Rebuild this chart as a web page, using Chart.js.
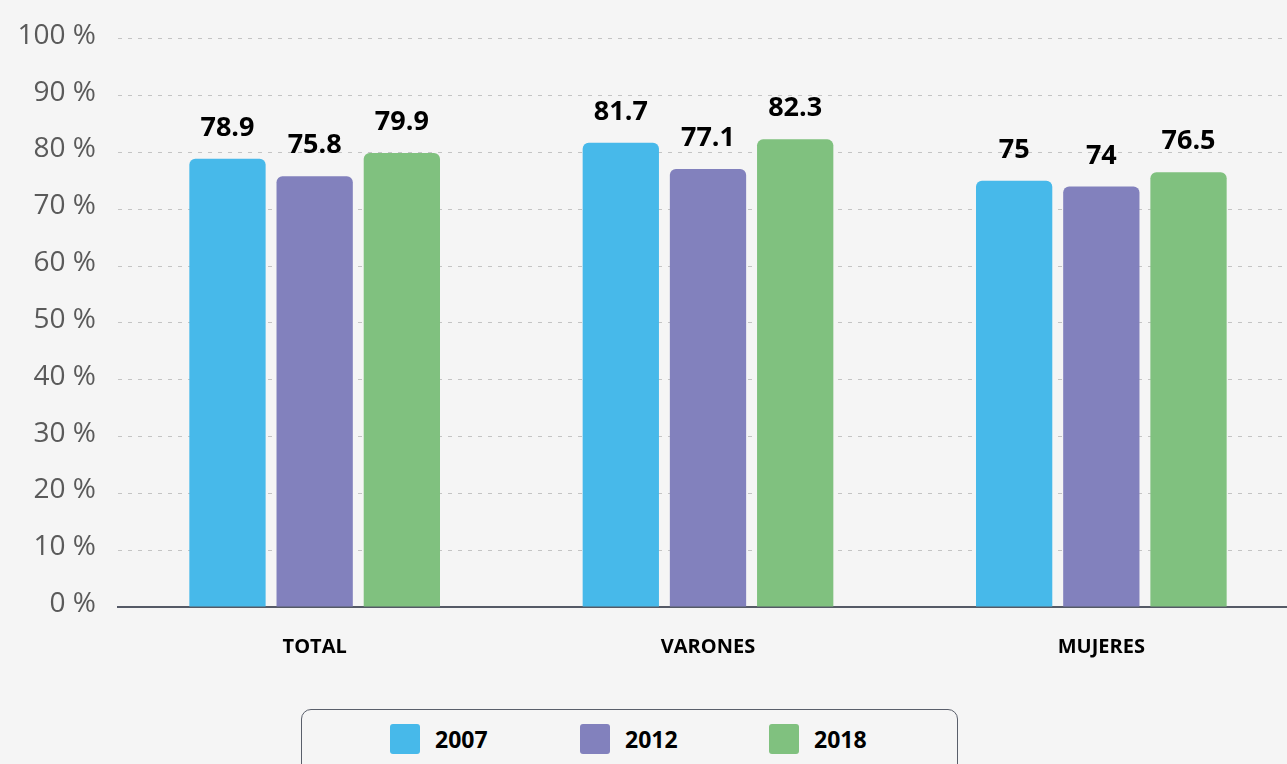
<!DOCTYPE html>
<html>
<head>
<meta charset="utf-8">
<script src="https://cdn.jsdelivr.net/npm/chart.js@4.4.0/dist/chart.umd.min.js"></script>
<style>
  body { margin: 0; background: #f5f5f5; width: 1287px; height: 764px; overflow: hidden; position: relative; font-family: "Open Sans", sans-serif; }
  #wrap { position: absolute; left: 0; top: 0; width: 1298px; height: 660px; }
  #legend { position: absolute; left: 301px; top: 709px; width: 657px; height: 70px; border: 1.5px solid #5a5f6b; border-radius: 10px; box-sizing: border-box; }
  .item { position: absolute; top: 14px; height: 30px; display: flex; align-items: center; }
  .sw { width: 30px; height: 30px; border-radius: 3px; margin-right: 15px; }
  .lbl { font-weight: 700; font-size: 23px; color: #000; }
</style>
</head>
<body>
<div id="wrap"><canvas id="chart"></canvas></div>
<div id="legend"></div>
<script>
const categories = ["TOTAL", "VARONES", "MUJERES"];
const years = ["2007", "2012", "2018"];
const values2007 = [78.9, 81.7, 75];
const values2012 = [75.8, 77.1, 74];
const values2018 = [79.9, 82.3, 76.5];
const colors = ["#47b9ea", "#8281bd", "#80c17f"];
const legendX = [88, 278, 467];

// value labels above each bar
const barLabels = {
  id: "barLabels",
  afterDatasetsDraw(chart) {
    const ctx = chart.ctx;
    ctx.save();
    ctx.font = "bold 27px 'Open Sans'";
    ctx.fillStyle = "#000";
    ctx.textAlign = "center";
    ctx.textBaseline = "alphabetic";
    chart.data.datasets.forEach((ds, i) => {
      chart.getDatasetMeta(i).data.forEach((bar, j) => {
        ctx.fillText(String(ds.data[j]), bar.x, bar.y - 23);
      });
    });
    ctx.restore();
  }
};

let chartId = document.getElementById('chart')
new Chart(chartId, {
  type: 'bar',
  data: {
    labels: categories,
    datasets: [
      { label: years[0], data: values2007, backgroundColor: colors[0] },
      { label: years[1], data: values2012, backgroundColor: colors[1] },
      { label: years[2], data: values2018, backgroundColor: colors[2] }
    ]
  },
  options: {
    responsive: true,
    maintainAspectRatio: false,
    animation: false,
    datasets: {
      bar: {
        categoryPercentage: 0.665,
        barPercentage: 0.875,
        borderRadius: { topLeft: 6, topRight: 6 },
        borderSkipped: 'bottom'
      }
    },
    layout: { padding: { top: 38, right: 0, bottom: 0, left: 0 } },
    scales: {
      y: {
        min: 0,
        max: 100,
        afterFit: (s) => { s.width = 118; },
        border: { display: false, dash: [4, 6] },
        grid: {
          drawTicks: false,
          color: (c) => c.tick && c.tick.value === 0 ? 'transparent' : '#c4c4c4',
          lineWidth: 1
        },
        ticks: {
          stepSize: 10,
          padding: 22,
          color: "#5a5a5a",
          labelOffset: -3,
          font: { family: "Open Sans", size: 28 },
          callback: (v) => v + " %"
        }
      },
      x: {
        afterFit: (s) => { s.height = 53; },
        grid: { display: false },
        border: { display: true, color: "#555a66", width: 2 },
        ticks: {
          padding: 20,
          color: "#000",
          font: { family: "Open Sans", size: 20, weight: "bold" }
        }
      }
    },
    plugins: {
      legend: { display: false },
      tooltip: { enabled: false }
    }
  },
  plugins: [barLabels]
});

// html legend
const legend = document.getElementById('legend');
years.forEach((y, i) => {
  const item = document.createElement('div');
  item.className = 'item';
  item.style.left = legendX[i] + 'px';
  item.innerHTML = '<div class="sw" style="background:' + colors[i] + '"></div><span class="lbl">' + y + '</span>';
  legend.appendChild(item);
});
</script>
</body>
</html>
